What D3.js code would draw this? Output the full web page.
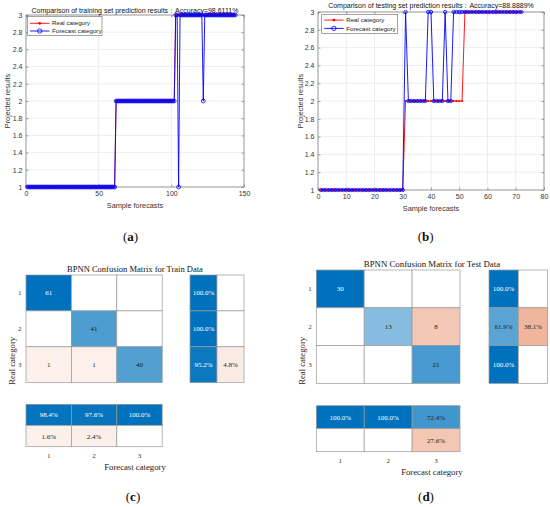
<!DOCTYPE html>
<html>
<head>
<meta charset="utf-8">
<script src="https://cdn.jsdelivr.net/npm/d3@7"></script>
<style>
body { margin: 0; background: #fff; }
svg text { font-family: "Liberation Sans", Arial, sans-serif; }
.serif text { font-family: "Liberation Serif", "Times New Roman", serif; }
</style>
</head>
<body>
<svg id="fig" width="550" height="507"></svg>
<script>
// ---- data ----
var trainReal = [
  1,1,1,1,1,1,1,1,1,1, 1,1,1,1,1,1,1,1,1,1, 1,1,1,1,1,1,1,1,1,1,
  1,1,1,1,1,1,1,1,1,1, 1,1,1,1,1,1,1,1,1,1, 1,1,1,1,1,1,1,1,1,1, 1,
  2,2,2,2,2,2,2,2,2,2, 2,2,2,2,2,2,2,2,2,2, 2,2,2,2,2,2,2,2,2,2, 2,2,2,2,2,2,2,2,2,2, 2,
  3,3,3,3,3,3,3,3,3,3, 3,3,3,3,3,3,3,3,3,3, 3,3,3,3,3,3,3,3,3,3, 3,3,3,3,3,3,3,3,3,3, 3,3
];
var trainForecast = [
  1,1,1,1,1,1,1,1,1,1, 1,1,1,1,1,1,1,1,1,1, 1,1,1,1,1,1,1,1,1,1,
  1,1,1,1,1,1,1,1,1,1, 1,1,1,1,1,1,1,1,1,1, 1,1,1,1,1,1,1,1,1,1, 1,
  2,2,2,2,2,2,2,2,2,2, 2,2,2,2,2,2,2,2,2,2, 2,2,2,2,2,2,2,2,2,2, 2,2,2,2,2,2,2,2,2,2, 2,
  3,3,1,3,3,3,3,3,3,3, 3,3,3,3,3,3,3,3,3,2, 3,3,3,3,3,3,3,3,3,3, 3,3,3,3,3,3,3,3,3,3, 3,3
];
var testReal = [
  1,1,1,1,1,1,1,1,1,1, 1,1,1,1,1,1,1,1,1,1, 1,1,1,1,1,1,1,1,1,1,
  2,2,2,2,2,2,2,2,2,2, 2,2,2,2,2,2,2,2,2,2, 2,
  3,3,3,3,3,3,3,3,3,3, 3,3,3,3,3,3,3,3,3,3, 3
];
var testForecast = [
  1,1,1,1,1,1,1,1,1,1, 1,1,1,1,1,1,1,1,1,1, 1,1,1,1,1,1,1,1,1,1,
  3,2,2,2,2,2,2,2,3,3, 2,2,2,2,3,2,2,3,3,3,
  3,3,3,3,3,3,3,3,3,3, 3,3,3,3,3,3,3,3,3,3, 3,3
];
var yTicks = [1, 1.2, 1.4, 1.6, 1.8, 2, 2.2, 2.4, 2.6, 2.8, 3];
var trainXTicks = [0, 50, 100, 150];
var testXTicks = [0, 10, 20, 30, 40, 50, 60, 70, 80];

var classes = ["1", "2", "3"];
var trainCM = [[61, 0, 0], [0, 41, 0], [1, 1, 40]];
var testCM = [[30, 0, 0], [0, 13, 8], [0, 0, 21]];

var svg = d3.select("#fig");

// ---- line charts (a), (b) ----
function drawLine(o) {
  var g = svg.append("g");
  var x = d3.scaleLinear().domain([0, o.xMax]).range([o.left, o.right]);
  var y = d3.scaleLinear().domain([1, 3]).range([o.bottom, o.top]);

  // grid
  g.append("g").selectAll("line").data(o.xTicks).join("line")
    .attr("x1", d => x(d)).attr("x2", d => x(d))
    .attr("y1", o.top).attr("y2", o.bottom)
    .attr("stroke", "#e2e2e2").attr("stroke-width", 0.6);
  g.append("g").selectAll("line").data(yTicks).join("line")
    .attr("y1", d => y(d)).attr("y2", d => y(d))
    .attr("x1", o.left).attr("x2", o.right)
    .attr("stroke", "#e2e2e2").attr("stroke-width", 0.6);

  // axes, ticks pointing inward
  var xa = g.append("g").attr("transform", `translate(0,${o.bottom})`)
    .call(d3.axisBottom(x).tickValues(o.xTicks).tickSize(-2.5).tickPadding(4));
  var ya = g.append("g").attr("transform", `translate(${o.left},0)`)
    .call(d3.axisLeft(y).tickValues(yTicks).tickSize(-2.5).tickPadding(3.5).tickFormat(d3.format("~r")));
  var xt = g.append("g").attr("transform", `translate(0,${o.top})`)
    .call(d3.axisTop(x).tickValues(o.xTicks).tickSize(-2.5).tickFormat(""));
  var yr = g.append("g").attr("transform", `translate(${o.right},0)`)
    .call(d3.axisRight(y).tickValues(yTicks).tickSize(-2.5).tickFormat(""));
  [xa, ya, xt, yr].forEach(a => {
    a.select(".domain").remove();
    a.selectAll("line").attr("stroke", "#666").attr("stroke-width", 0.6);
    a.selectAll("text").attr("font-size", 7).attr("fill", "#333")
      .style("font-family", "'Liberation Sans', Arial, sans-serif");
  });
  g.append("rect").attr("x", o.left).attr("y", o.top)
    .attr("width", o.right - o.left).attr("height", o.bottom - o.top)
    .attr("fill", "none").attr("stroke", "#777").attr("stroke-width", 0.7);

  var line = d3.line().x((d, i) => x(i + 1)).y(d => y(d));
  g.append("path").datum(o.real).attr("d", line)
    .attr("fill", "none").attr("stroke", "#ff0000").attr("stroke-width", 0.9);
  g.append("g").selectAll("circle").data(o.real).join("circle")
    .attr("cx", (d, i) => x(i + 1)).attr("cy", d => y(d)).attr("r", 1.1)
    .attr("fill", "#ff0000");
  g.append("path").datum(o.forecast).attr("d", line)
    .attr("fill", "none").attr("stroke", "#0000ff").attr("stroke-width", 0.9);
  g.append("g").selectAll("circle").data(o.forecast).join("circle")
    .attr("cx", (d, i) => x(i + 1)).attr("cy", d => y(d)).attr("r", o.r)
    .attr("fill", "none").attr("stroke", "#0000ff").attr("stroke-width", 0.8);

  // title and labels
  g.append("text").attr("x", (o.left + o.right) / 2).attr("y", o.titleY)
    .attr("text-anchor", "middle").attr("font-size", 7).attr("fill", "#111")
    .text(o.title);
  g.append("text").attr("x", (o.left + o.right) / 2).attr("y", o.xLabelY)
    .attr("text-anchor", "middle").attr("font-size", 7.3).attr("fill", "#333")
    .text("Sample forecasts");
  g.append("text").attr("transform", `translate(${o.yLabelX},${(o.top + o.bottom) / 2}) rotate(-90)`)
    .attr("dy", "0.35em").attr("text-anchor", "middle").attr("font-size", 7.3).attr("fill", "#333")
    .text("Projected results");

  // legend
  var L = o.legend;
  var lg = g.append("g");
  lg.append("rect").attr("x", L.x).attr("y", L.y).attr("width", L.w).attr("height", L.h)
    .attr("fill", "#fff").attr("stroke", "#666").attr("stroke-width", 0.6);
  var items = [
    {name: "Real category", color: "#ff0000", dot: true},
    {name: "Forecast category", color: "#0000ff", dot: false}
  ];
  items.forEach((it, i) => {
    var yy = L.y + L.row0 + i * L.step;
    lg.append("line").attr("x1", L.x + 2.5).attr("x2", L.x + 22).attr("y1", yy).attr("y2", yy)
      .attr("stroke", it.color).attr("stroke-width", 0.9);
    if (it.dot) {
      lg.append("circle").attr("cx", L.x + 12.2).attr("cy", yy).attr("r", 1.4).attr("fill", it.color);
    } else {
      lg.append("circle").attr("cx", L.x + 12.2).attr("cy", yy).attr("r", 2.2)
        .attr("fill", "none").attr("stroke", it.color).attr("stroke-width", 0.8);
    }
    lg.append("text").attr("x", L.x + 24.5).attr("y", yy).attr("dy", "0.35em")
      .attr("font-size", 6.2).attr("fill", "#222").text(it.name);
  });
}

drawLine({
  left: 26, right: 244, top: 15, bottom: 187, xMax: 150, xTicks: trainXTicks,
  real: trainReal, forecast: trainForecast, r: 1.9,
  title: "Comparison of training set prediction results：Accuracy=98.6111%",
  titleY: 12.5, xLabelY: 208, yLabelX: 7,
  legend: {x: 27.5, y: 16.5, w: 74.5, h: 19, row0: 6.8, step: 7.7}
});
drawLine({
  left: 318, right: 544, top: 12, bottom: 190, xMax: 80, xTicks: testXTicks,
  real: testReal, forecast: testForecast, r: 1.7,
  title: "Comparison of testing set prediction results：Accuracy=88.8889%",
  titleY: 8.3, xLabelY: 211, yLabelX: 300,
  legend: {x: 321.7, y: 14.3, w: 76, h: 19, row0: 5.8, step: 8.3}
});

// ---- confusion charts (c), (d) ----
var blueI = d3.interpolateRgb("#ffffff", "#0072bd");
var redI = d3.interpolateRgb("#ffffff", "#d95319");
var shade = d3.scaleLinear().domain([0, 1]).range([0.07, 1]);
var pct = d3.format(".1%");

function cellColor(v, good) {
  if (v === 0) return "#ffffff";
  return (good ? blueI : redI)(shade(v));
}
function textColor(v) { return shade(v) > 0.8 ? "#ffffff" : "#222222"; }

function drawConf(o) {
  var g = svg.append("g").attr("class", "serif");
  var n = o.cm.length;
  var maxV = d3.max(o.cm.flat());
  var xm = d3.scaleBand().domain(classes).range([o.x0, o.x0 + n * o.cw]);
  var ym = d3.scaleBand().domain(classes).range([o.y0, o.y0 + n * o.ch]);
  var cells = [];
  o.cm.forEach((row, i) => row.forEach((v, j) => cells.push({i, j, v})));

  function cellGroup(data, xf, yf, wf, hf) {
    var cg = g.append("g").selectAll("g").data(data).join("g");
    cg.append("rect").attr("x", xf).attr("y", yf).attr("width", wf).attr("height", hf)
      .attr("fill", d => cellColor(d.t, d.good))
      .attr("stroke", "#999").attr("stroke-width", 0.7);
    cg.filter(d => d.v !== 0).append("text")
      .attr("x", d => xf(d) + wf(d) / 2).attr("y", d => yf(d) + hf(d) / 2)
      .attr("dy", "0.35em").attr("text-anchor", "middle").attr("font-size", 7)
      .attr("fill", d => textColor(d.t)).text(d => d.label);
  }

  // main matrix
  cellGroup(cells.map(c => ({v: c.v, t: c.v / maxV, good: c.i === c.j, label: c.v, i: c.i, j: c.j})),
    d => xm(classes[d.j]), d => ym(classes[d.i]), () => o.cw, () => o.ch);

  // row summary (right)
  var rowS = [];
  o.cm.forEach((row, i) => {
    var s = d3.sum(row), ok = row[i] / s;
    rowS.push({i, k: 0, v: ok, t: ok, good: true, label: pct(ok)});
    rowS.push({i, k: 1, v: 1 - ok, t: 1 - ok, good: false, label: pct(1 - ok)});
  });
  cellGroup(rowS, d => o.rx0 + d.k * o.rcw, d => ym(classes[d.i]), () => o.rcw, () => o.ch);

  // column summary (bottom)
  var colS = [];
  classes.forEach((c, j) => {
    var s = d3.sum(o.cm, r => r[j]), ok = o.cm[j][j] / s;
    colS.push({j, k: 0, v: ok, t: ok, good: true, label: pct(ok)});
    colS.push({j, k: 1, v: 1 - ok, t: 1 - ok, good: false, label: pct(1 - ok)});
  });
  cellGroup(colS, d => xm(classes[d.j]), d => o.by0 + d.k * o.bch, () => o.cw, () => o.bch);

  var right = o.rx0 + 2 * o.rcw, bottom = o.by0 + 2 * o.bch;
  var cx = (o.x0 + right) / 2;

  // tick labels
  g.append("g").selectAll("text").data(classes).join("text")
    .attr("x", o.x0 - 4.5).attr("y", d => ym(d) + o.ch / 2).attr("dy", "0.35em")
    .attr("text-anchor", "end").attr("font-size", 7).attr("fill", "#333").text(d => d);
  g.append("g").selectAll("text").data(classes).join("text")
    .attr("x", d => xm(d) + o.cw / 2).attr("y", o.tickY)
    .attr("text-anchor", "middle").attr("font-size", 7).attr("fill", "#333").text(d => d);

  g.append("text").attr("x", cx).attr("y", o.titleY).attr("text-anchor", "middle")
    .attr("font-size", o.titleSize).attr("fill", "#111").text(o.title);
  g.append("text").attr("x", cx).attr("y", o.xLabelY).attr("text-anchor", "middle")
    .attr("font-size", 8.7).attr("fill", "#222").text("Forecast category");
  g.append("text").attr("transform", `translate(${o.yLabelX},${(o.y0 + bottom) / 2}) rotate(-90)`)
    .attr("dy", "0.35em").attr("text-anchor", "middle")
    .attr("font-size", 8.7).attr("fill", "#222").text("Real category");
}

drawConf({
  cm: trainCM, x0: 26, y0: 275, cw: 45.4, ch: 35.9,
  rx0: 190, rcw: 27, by0: 404.3, bch: 21.2,
  title: "BPNN Confusion Matrix for Train Data", titleY: 272, titleSize: 8.5,
  tickY: 457.5, xLabelY: 469.5, yLabelX: 12
});
drawConf({
  cm: testCM, x0: 316.3, y0: 270, cw: 47.9, ch: 37.8,
  rx0: 489, rcw: 29.3, by0: 405.7, bch: 23,
  title: "BPNN Confusion Matrix for Test Data", titleY: 267, titleSize: 8.8,
  tickY: 462.5, xLabelY: 474.5, yLabelX: 301.7
});

// ---- panel letters ----
var letters = [
  {k: "a", x: 130.5, y: 241}, {k: "b", x: 425.6, y: 241},
  {k: "c", x: 133, y: 501}, {k: "d", x: 426, y: 501}
];
var pl = svg.append("g").attr("class", "serif");
letters.forEach(p => {
  var t = pl.append("text").attr("x", p.x).attr("y", p.y).attr("text-anchor", "middle")
    .attr("font-size", 13).attr("fill", "#111");
  t.append("tspan").text("(");
  t.append("tspan").attr("font-weight", "bold").text(p.k);
  t.append("tspan").text(")");
});
</script>
</body>
</html>
